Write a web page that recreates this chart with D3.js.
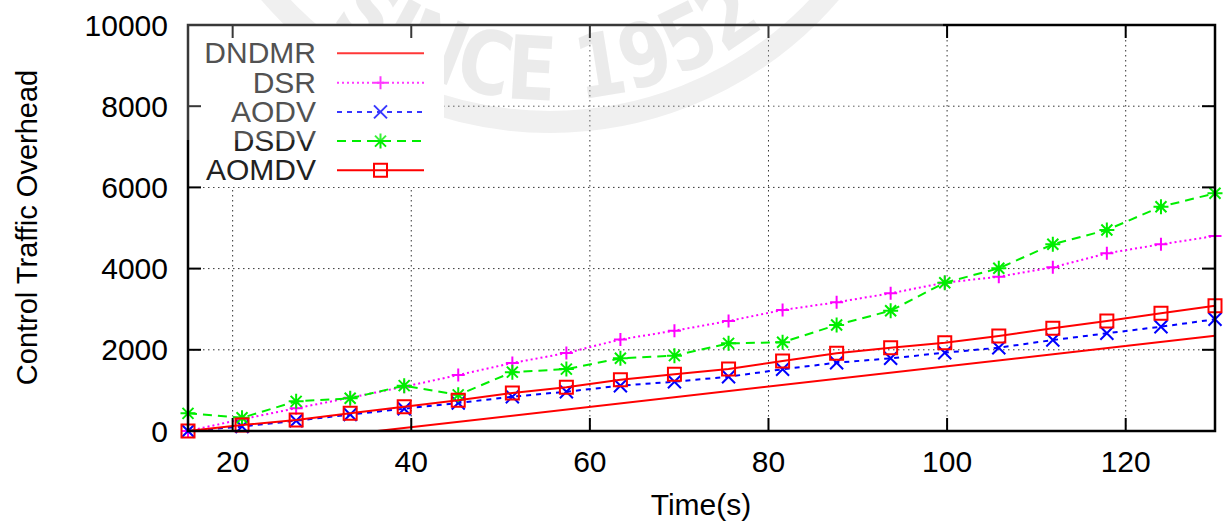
<!DOCTYPE html>
<html>
<head>
<meta charset="utf-8">
<script src="https://cdn.jsdelivr.net/npm/d3@7"></script>
<style>
  html, body { margin: 0; padding: 0; background: #fff; }
  svg { display: block; }
  text { font-family: "Liberation Sans", Arial, sans-serif; }
</style>
</head>
<body>
<svg id="chart" width="1225" height="525"></svg>
<script>
// ---- data ----
const times = [15, 21.05, 27.11, 33.16, 39.21, 45.26, 51.32, 57.37, 63.42, 69.47,
               75.53, 81.58, 87.63, 93.68, 99.74, 105.79, 111.84, 117.89, 123.95, 130];
const dndmrTimes = [36.2, 130];
const dndmrValues = [0, 2345];
const dsrValues = [0, 290, 560, 820, 1090, 1379, 1675, 1920, 2255, 2470,
                   2709, 2980, 3170, 3392, 3653, 3800, 4032, 4377, 4599, 4803];
const aodvValues = [0, 110, 254, 405, 550, 690, 845, 968, 1115, 1214,
                    1337, 1520, 1682, 1790, 1929, 2052, 2241, 2406, 2569, 2751];
const dsdvValues = [435, 325, 730, 805, 1117, 890, 1450, 1525, 1790, 1856,
                    2159, 2184, 2611, 2963, 3653, 4007, 4599, 4951, 5525, 5854];
const aomdvValues = [0, 145, 271, 435, 600, 760, 935, 1080, 1260, 1397,
                     1527, 1724, 1914, 2052, 2175, 2340, 2530, 2709, 2899, 3086];
const seriesNames = ["DNDMR", "DSR", "AODV", "DSDV", "AOMDV"];
const xTicks = [20, 40, 60, 80, 100, 120];
const yTicks = [0, 2000, 4000, 6000, 8000, 10000];
const xTitle = "Time(s)";
const yTitle = "Control Traffic Overhead";
const watermarkText = "SINCE 1952";

// ---- layout ----
const svg = d3.select("#chart");
const L = 188, R = 1215, T = 25, B = 431;
const x = d3.scaleLinear().domain([15, 130]).range([L, R]);
const y = d3.scaleLinear().domain([0, 10000]).range([B, T]);

const series = [
  { name: seriesNames[0], xs: dndmrTimes, ys: dndmrValues, color: "#ff0000", dash: null, marker: null },
  { name: seriesNames[1], xs: times, ys: dsrValues, color: "#ff00ff", dash: "2,3", marker: "plus" },
  { name: seriesNames[2], xs: times, ys: aodvValues, color: "#0000ff", dash: "5,5", marker: "cross" },
  { name: seriesNames[3], xs: times, ys: dsdvValues, color: "#00ee00", dash: "9,6", marker: "star" },
  { name: seriesNames[4], xs: times, ys: aomdvValues, color: "#ff0000", dash: null, marker: "square" }
];

function markerPath(type, cx, cy) {
  const p = d3.path();
  if (type === "plus" || type === "star") {
    const a = type === "star" ? 7.5 : 6.5;
    p.moveTo(cx - a, cy); p.lineTo(cx + a, cy);
    p.moveTo(cx, cy - a); p.lineTo(cx, cy + a);
  }
  if (type === "cross" || type === "star") {
    const a = type === "star" ? 5.5 : 6.5;
    p.moveTo(cx - a, cy - a); p.lineTo(cx + a, cy + a);
    p.moveTo(cx - a, cy + a); p.lineTo(cx + a, cy - a);
  }
  if (type === "square") {
    p.rect(cx - 6.5, cy - 6.5, 13, 13);
  }
  return p.toString();
}

// ---- watermark (under grid) ----
const wm = svg.append("g");
const wcx = 550, wcy = -247;
wm.append("circle").attr("cx", wcx).attr("cy", wcy).attr("r", 369)
  .attr("fill", "none").attr("stroke", "#ececec").attr("stroke-width", 22);
const ang = 39.3 * Math.PI / 180, rr = 347;
const arcD = `M${wcx - rr * Math.sin(ang)},${wcy + rr * Math.cos(ang)} A${rr},${rr} 0 0 0 ${wcx + rr * Math.sin(ang)},${wcy + rr * Math.cos(ang)}`;
wm.append("defs").append("path").attr("id", "wmArc").attr("d", arcD);
wm.append("text")
  .style("font-family", "'DejaVu Sans Condensed', 'DejaVu Sans', sans-serif")
  .attr("font-weight", "bold").attr("font-size", 88).attr("fill", "#e6e6e6")
  .append("textPath").attr("href", "#wmArc")
  .attr("textLength", 470).attr("lengthAdjust", "spacingAndGlyphs")
  .text(watermarkText);

// ---- grid ----
const grid = svg.append("g").attr("stroke", "#333").attr("stroke-width", 1).attr("stroke-dasharray", "1.5,3.5");
grid.selectAll(".gx").data(xTicks).join("line")
  .attr("x1", d => x(d)).attr("x2", d => x(d)).attr("y1", T).attr("y2", B);
grid.selectAll(".gy").data(yTicks.filter(d => d > 0 && d < 10000)).join("line")
  .attr("x1", L).attr("x2", R).attr("y1", d => y(d)).attr("y2", d => y(d));

// legend background blanks the grid
svg.append("rect").attr("x", L + 1).attr("y", T + 1).attr("width", 443 - L).attr("height", 186 - T).attr("fill", "#fff");

// ---- series ----
const plot = svg.append("g");
series.forEach(s => {
  const pts = s.xs.map((t, i) => [t, s.ys[i]]);
  const line = d3.line().x(d => x(d[0])).y(d => y(d[1]));
  plot.append("path").attr("d", line(pts)).attr("fill", "none")
    .attr("stroke", s.color).attr("stroke-width", 2)
    .attr("stroke-dasharray", s.dash);
  if (s.marker) {
    plot.append("g").selectAll("path").data(pts).join("path")
      .attr("d", d => markerPath(s.marker, x(d[0]), y(d[1])))
      .attr("fill", "none").attr("stroke", s.color).attr("stroke-width", 2);
  }
});

// ---- legend ----
const lg = svg.append("g");
const legBase = [63.3, 92.7, 121.9, 151.1, 180.3];
series.forEach((s, i) => {
  const by = legBase[i];
  lg.append("text").attr("x", 316).attr("y", by).attr("text-anchor", "end")
    .attr("font-size", 30).attr("fill", "#222").text(s.name);
  const ly = by - 10;
  lg.append("line").attr("x1", 337).attr("x2", 424).attr("y1", ly).attr("y2", ly)
    .attr("stroke", s.color).attr("stroke-width", 2).attr("stroke-dasharray", s.dash);
  if (s.marker) {
    lg.append("path").attr("d", markerPath(s.marker, 380.5, ly))
      .attr("fill", "none").attr("stroke", s.color).attr("stroke-width", 2);
  }
});

// ---- axes (border, mirrored inward ticks) ----
const ax = svg.append("g").attr("stroke", "#000");
ax.append("rect").attr("x", L).attr("y", T).attr("width", R - L).attr("height", B - T)
  .attr("fill", "none").attr("stroke-width", 2.5);
const tl = 13;
ax.selectAll(".txb").data(xTicks).join("line")
  .attr("x1", d => x(d)).attr("x2", d => x(d)).attr("y1", B).attr("y2", B - tl).attr("stroke-width", 2);
ax.selectAll(".txt").data(xTicks).join("line").attr("class", "txt")
  .attr("x1", d => x(d)).attr("x2", d => x(d)).attr("y1", T).attr("y2", T + tl).attr("stroke-width", 2);
ax.append("g").selectAll("line").data(yTicks).join("line")
  .attr("x1", L).attr("x2", L + tl).attr("y1", d => y(d)).attr("y2", d => y(d)).attr("stroke-width", 2);
ax.append("g").selectAll("line").data(yTicks).join("line")
  .attr("x1", R).attr("x2", R - tl).attr("y1", d => y(d)).attr("y2", d => y(d)).attr("stroke-width", 2);

// tick labels
svg.append("g").selectAll("text").data(xTicks).join("text")
  .attr("x", d => x(d)).attr("y", 471.5).attr("text-anchor", "middle")
  .attr("font-size", 30).attr("fill", "#000").text(d => d);
svg.append("g").selectAll("text").data(yTicks).join("text")
  .attr("x", 168).attr("y", d => y(d) + 10.5).attr("text-anchor", "end")
  .attr("font-size", 30).attr("fill", "#000").text(d => d);

// titles
svg.append("text").attr("x", 701).attr("y", 515).attr("text-anchor", "middle")
  .attr("font-size", 30).attr("fill", "#000").text(xTitle);
svg.append("text").attr("transform", "translate(36.5,227.5) rotate(-90)")
  .attr("text-anchor", "middle").attr("font-size", 29).attr("fill", "#000").text(yTitle);

// translucent watermark overlay (lightens dark marks only)
svg.append("rect").attr("x", 183).attr("y", 0).attr("width", 760).attr("height", 140)
  .attr("fill", "#ffffff").attr("opacity", 0.22);
</script>
</body>
</html>
